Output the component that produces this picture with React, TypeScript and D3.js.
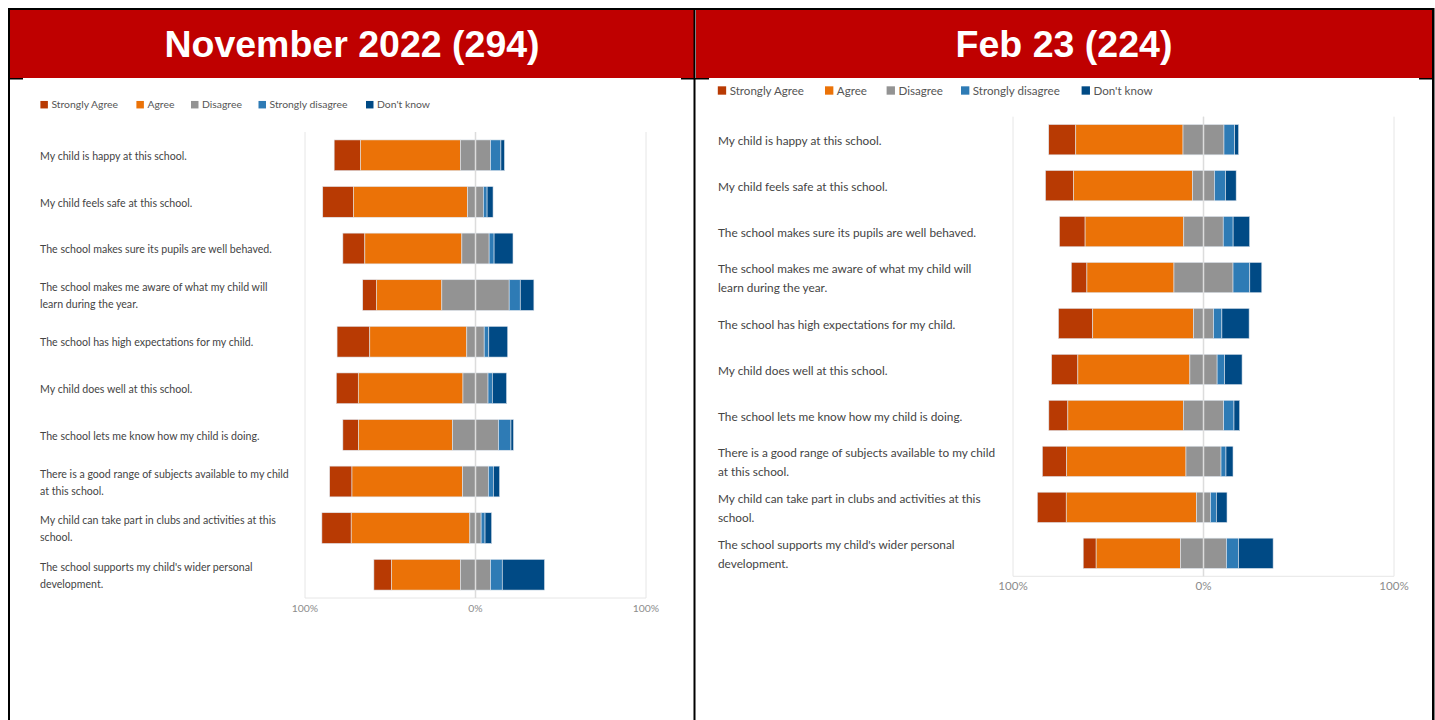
import * as d3 from 'd3';

// questions, already split into the lines shown in the chart
const questions: string[][] = [
  ['My child is happy at this school.'],
  ['My child feels safe at this school.'],
  ['The school makes sure its pupils are well behaved.'],
  ['The school makes me aware of what my child will', 'learn during the year.'],
  ['The school has high expectations for my child.'],
  ['My child does well at this school.'],
  ['The school lets me know how my child is doing.'],
  ['There is a good range of subjects available to my child', 'at this school.'],
  ['My child can take part in clubs and activities at this', 'school.'],
  ["The school supports my child's wider personal", 'development.'],
];

const responseLabels = ['Strongly Agree', 'Agree', 'Disagree', 'Strongly disagree', "Don't know"];
const responseColors = ['#b83a03', '#eb7207', '#939393', '#2e7bb5', '#004a85'];
const tickValues = [-100, 0, 100];

// November 2022 (294 responses), percentages
const nov22StronglyAgree = [15.4, 18.0, 12.9, 8.0, 19.2, 12.9, 9.2, 13.1, 17.2, 10.3];
const nov22Agree = [58.7, 67.0, 56.9, 38.4, 56.9, 61.4, 55.1, 64.9, 69.6, 40.5];
const nov22Disagree = [17.6, 9.2, 16.0, 39.5, 10.2, 14.7, 27.0, 15.1, 6.6, 17.6];
const nov22StronglyDisagree = [6.1, 2.2, 2.9, 6.5, 2.7, 2.5, 7.3, 2.9, 2.3, 6.9];
const nov22DontKnow = [2.1, 3.5, 11.1, 8.0, 11.1, 8.4, 1.5, 3.7, 3.9, 24.8];

// February 2023 (224 responses), percentages
const feb23StronglyAgree = [14.2, 14.7, 13.5, 8.2, 18.0, 13.8, 10.0, 12.8, 15.2, 6.8];
const feb23Agree = [56.3, 62.5, 51.8, 45.7, 52.9, 58.8, 60.6, 62.6, 68.4, 44.3];
const feb23Disagree = [21.5, 11.5, 20.7, 31.0, 10.5, 14.3, 21.2, 18.4, 7.3, 24.1];
const feb23StronglyDisagree = [5.6, 5.8, 5.2, 8.8, 4.4, 3.9, 5.4, 2.6, 3.1, 6.3];
const feb23DontKnow = [2.1, 5.6, 8.7, 6.3, 14.3, 9.2, 3.0, 3.7, 5.6, 18.2];

const LABEL_FONT = "Lato, 'Open Sans', sans-serif";
const TITLE_FONT = "'Liberation Sans', Arial, sans-serif";

interface PanelProps {
  title: string;
  series: number[][];
  x0: number;
  x1: number;
  titleX: number;
  legendY: number;
  legendX: number[];
  gridX: [number, number];
  bandY: [number, number];
  labelX: number;
  fontSize: number;
  labelSize: number;
  tickY: number;
}

function Panel(p: PanelProps) {
  const x = d3.scaleLinear().domain([-100, 100]).range(p.gridX);
  const y = d3
    .scaleBand<number>()
    .domain(d3.range(questions.length))
    .range(p.bandY)
    .paddingInner(0.34)
    .paddingOuter(0.17);

  // Disagree is centred on 0, agree to the left, the rest to the right
  const rows = questions.map((_, i) => {
    const vals = p.series.map((s) => s[i]);
    const start = -(vals[0] + vals[1] + vals[2] / 2);
    const ends = d3.cumsum(vals).map((c) => start + c);
    return vals.map((v, k) => ({ k, from: ends[k] - v, to: ends[k] }));
  });

  const sq = p.fontSize * 0.72;
  const lineH = p.labelSize * 1.6;

  return (
    <g>
      <rect x={p.x0} y={10} width={p.x1 - p.x0} height={68} fill="#bf0000" />
      <text
        x={p.titleX}
        y={56.5}
        textAnchor="middle"
        fill="#fff"
        fontFamily={TITLE_FONT}
        fontWeight="bold"
        fontSize={37.5}
      >
        {p.title}
      </text>

      <g fontFamily={LABEL_FONT} fontSize={p.fontSize} fill="#555">
        {responseLabels.map((l, k) => (
          <g key={l} transform={`translate(${p.legendX[k]},${p.legendY})`}>
            <rect x={0} y={-sq / 2} width={sq} height={sq} fill={responseColors[k]} />
            <text x={sq + 3.5} y={p.fontSize * 0.36}>
              {l}
            </text>
          </g>
        ))}
      </g>

      {tickValues.map((t) => (
        <line
          key={'g' + t}
          x1={x(t)}
          x2={x(t)}
          y1={p.bandY[0]}
          y2={p.bandY[1]}
          stroke="#e6e6e6"
          strokeWidth={1}
        />
      ))}
      <line x1={p.gridX[0]} x2={p.gridX[1]} y1={p.bandY[1]} y2={p.bandY[1]} stroke="#e6e6e6" />

      {rows.map((segs, i) =>
        segs.map((s) => (
          <rect
            key={i + '-' + s.k}
            x={x(s.from)}
            y={y(i)!}
            width={x(s.to) - x(s.from)}
            height={y.bandwidth()}
            fill={responseColors[s.k]}
            stroke="#dfe6ee"
            strokeWidth={0.6}
          />
        )),
      )}
      <line x1={x(0)} x2={x(0)} y1={p.bandY[0]} y2={p.bandY[1]} stroke="#dcdcdc" strokeWidth={1.5} />

      <g fontFamily={LABEL_FONT} fontSize={p.labelSize} fill="#444">
        {questions.map((lines, i) => {
          const cy = y(i)! + y.bandwidth() / 2;
          const top = cy - ((lines.length - 1) * lineH) / 2;
          return (
            <text key={i}>
              {lines.map((ln, j) => (
                <tspan key={j} x={p.labelX} y={top + j * lineH} dy="0.45em">
                  {ln}
                </tspan>
              ))}
            </text>
          );
        })}
      </g>

      <g fontFamily={LABEL_FONT} fontSize={p.fontSize} fill="#8c8c8c" textAnchor="middle">
        {tickValues.map((t) => (
          <text key={'t' + t} x={x(t)} y={p.tickY} dy="0.35em">
            {Math.abs(t) + '%'}
          </text>
        ))}
      </g>
    </g>
  );
}

export default function App() {
  return (
    <div style={{ position: 'absolute', left: 0, top: 0 }}>
      <svg width={1435} height={720} style={{ display: 'block', background: '#fff' }}>
        <Panel
          title="November 2022 (294)"
          series={[nov22StronglyAgree, nov22Agree, nov22Disagree, nov22StronglyDisagree, nov22DontKnow]}
          x0={10}
          x1={694}
          titleX={352}
          legendY={104.7}
          legendX={[40.4, 136.4, 191, 258.5, 366]}
          gridX={[305, 646]}
          bandY={[132, 598]}
          labelX={40}
          fontSize={10.4}
          labelSize={10.6}
          tickY={608}
        />
        <Panel
          title="Feb 23 (224)"
          series={[feb23StronglyAgree, feb23Agree, feb23Disagree, feb23StronglyDisagree, feb23DontKnow]}
          x0={696}
          x1={1432}
          titleX={1064}
          legendY={90.5}
          legendX={[717.8, 825, 886.6, 961, 1081.6]}
          gridX={[1013, 1394]}
          bandY={[116.7, 576.3]}
          labelX={718}
          fontSize={11.6}
          labelSize={11.8}
          tickY={586}
        />

        {/* table borders */}
        <g fill="#000">
          <rect x={8} y={8} width={1426} height={2} />
          <rect x={8} y={8} width={2} height={712} />
          <rect x={693.5} y={8} width={2} height={712} />
          <rect x={1432} y={8} width={2.5} height={712} />
          <rect x={8} y={78} width={15} height={1.5} />
          <rect x={681} y={78} width={28} height={1.5} />
          <rect x={1419} y={78} width={15} height={1.5} />
        </g>
      </svg>
    </div>
  );
}
